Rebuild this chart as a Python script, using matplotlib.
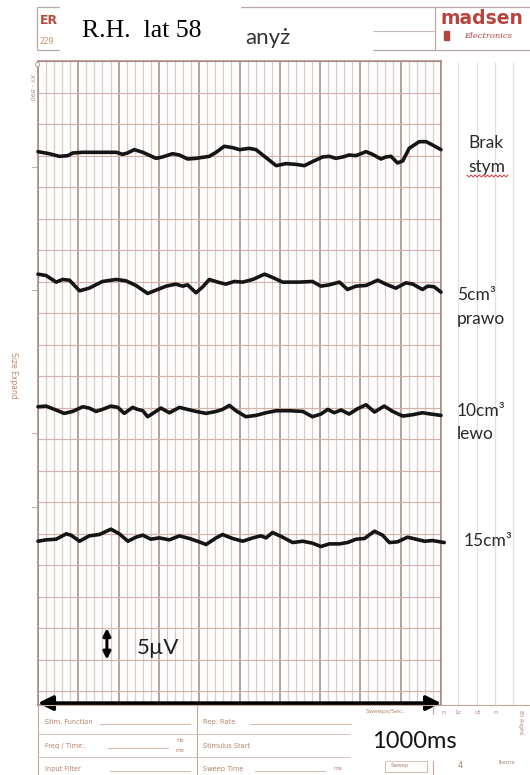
import numpy as np
import matplotlib
matplotlib.use("Agg")
import matplotlib.pyplot as plt
from matplotlib.patches import Rectangle

# ---------------------------------------------------------------------------
# Recorded sweeps: time (ms) and deflection from each channel baseline (µV)
# ---------------------------------------------------------------------------
t_brak = [0, 28, 53, 74, 86, 111, 160, 194, 210, 222, 239, 260, 293, 309, 334,
          351, 371, 392, 425, 442, 462, 483, 500, 524, 541, 566, 591, 615, 640,
          661, 681, 706, 723, 739, 756, 772, 789, 814, 830, 851, 863, 876, 892,
          905, 921, 946, 963, 979, 1000]
v_brak = [0.21, -0.11, -0.53, -0.42, 0.0, 0.11, 0.11, 0.11, -0.21, 0.0, 0.53,
          0.11, -0.85, -0.63, -0.11, -0.32, -0.95, -0.85, -0.53, 0.11, 1.06,
          0.85, 0.53, 0.74, 0.53, -0.74, -2.01, -1.69, -1.80, -2.01, -1.37,
          -0.63, -0.53, -0.85, -0.63, -0.32, -0.42, 0.21, -0.21, -0.95, -0.63,
          -0.53, -1.58, -1.27, 0.74, 1.80, 1.80, 1.27, 0.53]

t_5p = [0, 20, 45, 61, 78, 103, 127, 160, 194, 218, 243, 272, 293, 318, 342,
        359, 371, 392, 409, 425, 446, 466, 487, 508, 533, 562, 582, 607, 648,
        681, 702, 723, 748, 768, 789, 814, 843, 863, 888, 913, 930, 954, 967,
        983, 1000]
v_5p = [1.37, 1.16, 0.11, 0.53, 0.42, -1.27, -0.85, 0.21, 0.53, 0.32, -0.42,
        -1.69, -1.16, -0.53, -0.21, -0.53, -0.32, -1.58, -0.63, 0.53, 0.11,
        -0.21, 0.21, 0.11, 0.53, 1.37, 0.85, 0.11, 0.11, 0.21, -0.53, -0.32,
        0.11, -1.06, -0.53, -0.42, 0.42, -0.21, -0.85, 0.0, -0.21, -1.06,
        -0.53, -0.63, -1.48]

t_10l = [0, 20, 41, 65, 86, 111, 127, 144, 160, 181, 198, 214, 235, 247, 260,
         272, 285, 305, 326, 351, 371, 392, 417, 442, 458, 475, 491, 516, 541,
         566, 591, 624, 657, 681, 702, 719, 735, 752, 772, 793, 814, 835, 859,
         880, 905, 930, 954, 975, 1000]
v_10l = [0.63, 0.74, 0.21, -0.42, -0.11, 0.63, 0.42, -0.11, 0.21, 0.74, 0.53,
         -0.42, 0.53, 0.21, 0.0, -0.95, -0.42, 0.42, -0.32, 0.53, 0.21, -0.11,
         -0.42, -0.11, 0.21, 0.85, 0.0, -0.95, -0.74, -0.32, 0.0, 0.0, -0.11,
         -0.95, -0.53, 0.21, -0.32, 0.11, -0.53, 0.32, 0.95, -0.21, 0.74,
         -0.11, -0.85, -0.63, -0.32, -0.53, -0.74]

t_15 = [0, 20, 45, 70, 82, 103, 127, 152, 181, 202, 223, 243, 260, 280, 301,
        326, 351, 376, 400, 417, 442, 458, 483, 508, 533, 553, 566, 582, 607,
        632, 657, 681, 702, 723, 748, 768, 789, 810, 835, 855, 872, 892, 917,
        938, 959, 979, 1008]
v_15 = [-0.11, 0.11, 0.21, 1.06, 0.85, -0.11, 0.74, 0.95, 1.80, 1.06, -0.11,
        0.53, 0.85, 0.21, 0.42, 0.11, 0.74, 0.32, -0.21, -0.63, 0.42, 0.95,
        0.32, -0.11, 0.42, 0.74, 0.42, 1.27, 0.53, -0.32, -0.11, -0.42, -0.95,
        -0.53, -0.53, -0.32, 0.21, 0.32, 1.48, 0.85, -0.32, -0.21, 0.53, 0.21,
        -0.11, 0.0, -0.32]

baselines_uV = [85.4, 64.8, 44.5, 23.9]
trace_labels = [["Brak", "stym"], ["5cm³", "prawo"], ["10cm³", "lewo"], ["15cm³"]]

sweep_ms = 1000
scale_uV = 5
patient = "R.H.  lat 58"
test_name = "anyż"

# ---------------------------------------------------------------------------
# Page geometry (pixels of a 530 x 775 sheet)
# ---------------------------------------------------------------------------
W, H = 530, 775
GL, GR, GT, GB = 38, 441, 61, 705

SANS = ["Lato", "DejaVu Sans"]
INK = "#1f1f1f"
FORM = "#b9826a"
MAJOR = "#a5857a"
MINOR = "#dccac6"
HLINE = "#d2b2aa"

fig = plt.figure(figsize=(W / 100, H / 100), dpi=100)
fig.patch.set_facecolor("white")

ax = fig.add_axes([GL / W, 1 - GB / H, (GR - GL) / W, (GB - GT) / H])
ax.set_facecolor("white")
ax.set_xlim(0, sweep_ms)
ax.set_ylim(-2.2, 100)

# chart paper ruling: 100 ms major, 20 ms minor, 5 µV horizontal
ax.set_xticks(np.arange(0, sweep_ms + 1, 100))
ax.set_xticks([m for m in range(0, sweep_ms + 1, 20) if m % 100], minor=True)
ax.set_yticks(np.arange(0, 101, scale_uV))
ax.tick_params(which="both", length=0, labelbottom=False, labelleft=False)
ax.grid(which="minor", axis="x", color=MINOR, lw=0.9)
ax.grid(which="major", axis="y", color=HLINE, lw=0.9)
ax.grid(which="major", axis="x", color=MAJOR, lw=1.1)
for s in ax.spines.values():
    s.set_color(MAJOR)
    s.set_linewidth(1.1)

# the four sweeps
sweeps = [(t_brak, v_brak), (t_5p, v_5p), (t_10l, v_10l), (t_15, v_15)]
for (t, v), base in zip(sweeps, baselines_uV):
    ax.plot(t, np.asarray(v) + base, color="#151515", lw=2.6,
            solid_joinstyle="round", solid_capstyle="round", clip_on=False,
            zorder=4)

# time base arrow across the full sweep
ax.annotate("", xy=(sweep_ms, -1.9), xytext=(0, -1.9),
            arrowprops=dict(arrowstyle="<|-|>", color="black", lw=2.6,
                            mutation_scale=22, shrinkA=0, shrinkB=0),
            annotation_clip=False, zorder=6)

# amplitude calibration bar
ax.annotate("", xy=(171, 5 + scale_uV), xytext=(171, 5),
            arrowprops=dict(arrowstyle="<|-|>", color="black", lw=2.2,
                            mutation_scale=11, shrinkA=0, shrinkB=0),
            annotation_clip=False, zorder=6)
ax.text(244, 6.8, f"{scale_uV}µV", family=SANS, fontsize=16, color=INK,
        ha="left", va="center", zorder=6)

# ---------------------------------------------------------------------------
# Printed form around the chart paper
# ---------------------------------------------------------------------------
pg = fig.add_axes([0, 0, 1, 1], zorder=3)
pg.set_xlim(0, W)
pg.set_ylim(H, 0)
pg.axis("off")
pg.patch.set_visible(False)

# right-hand annotation strip
pg.vlines([458, 477, 495, 513], GT + 1, GB, color="#eadcdc", lw=0.9, zorder=1)

# header frame
pg.hlines([7, 50], 37, W, color="#b8a8a6", lw=0.9, zorder=1)
pg.vlines([37, 435], 7, 50, color="#b8a8a6", lw=0.9, zorder=1)
pg.hlines(31, 372, 435, color="#c8baba", lw=0.8, zorder=1)
pg.text(40, 20, "ER", color="#b8483a", fontsize=9, fontweight="bold",
        family="DejaVu Sans", ha="left", va="center", zorder=2)
pg.text(40, 42, "229", color="#d08a60", fontsize=5.5, family="DejaVu Sans",
        ha="left", va="center", zorder=2)

# manufacturer logo
pg.text(482, 19, "madsen", color="#b5443f", fontsize=13.5, fontweight="bold",
        family="DejaVu Sans", ha="center", va="center", zorder=2)
pg.add_patch(Rectangle((444, 31), 5, 9, color="#b5443f", zorder=2))
pg.text(488, 36, "Electronics", color="#b5443f", fontsize=6, style="italic",
        family="DejaVu Serif", ha="center", va="center", zorder=2)

# patient / test slips
pg.add_patch(Rectangle((60, 0), 180, 52, color="white", zorder=3))
pg.add_patch(Rectangle((240, 10), 132, 42, color="white", zorder=3))
pg.text(82, 31, patient, family="Liberation Serif", fontsize=18.5,
        color="black", ha="left", va="center", zorder=4)
pg.text(245, 44, test_name, family=SANS, fontsize=16, color="#333333",
        ha="left", va="baseline", zorder=4)

# left margin notes
pg.text(31, 87, "XY - 890", rotation=-90, fontsize=4.5, color="#9a8c86",
        family="DejaVu Sans", ha="center", va="center")
pg.text(13, 375, "Size Expand", rotation=-90, fontsize=5.5, color="#c48a66",
        family="DejaVu Sans", ha="center", va="center")
for yy in [167, 290, 433, 507]:
    pg.plot([32, 36], [yy, yy], color="#c0b4b0", lw=0.8)
pg.plot([37], [64], marker="o", ms=3, mfc="white", mec="#b0a0a0", mew=0.7)

# channel labels
label_pos = [(468, [143, 167]), (457, [295, 319]), (457, [411, 434]),
             (464, [541])]
for lines, (lx, ys) in zip(trace_labels, label_pos):
    for txt, yy in zip(lines, ys):
        pg.text(lx, yy, txt, family=SANS, fontsize=12.5, color="#2a2a2a",
                ha="left", va="center", zorder=4)
# proofing squiggle under the misspelt word
zx = np.linspace(467, 508, 21)
zy = 176 + np.where(np.arange(zx.size) % 2 == 0, -1.0, 1.0)
pg.plot(zx, zy, color="#d23a3a", lw=0.7, zorder=4)

# bottom settings form
pg.hlines(GB, GL, W, color="#c7a79d", lw=0.8)
pg.vlines([GL, 197, 433], GB, H, color="#c7a79d", lw=0.8)
pg.hlines([734, 757], GL, 350, color="#d8c2ba", lw=0.7)
form_rows = [
    (45, 722, "Stim. Function", 100, 190),
    (203, 722, "Rep. Rate", 250, 352),
    (45, 746, "Freq / Time:", 108, 168),
    (203, 746, "Stimulus Start", None, None),
    (45, 769, "Input Filter", 110, 190),
    (203, 769, "Sweep Time", 255, 325),
]
for x0, y0, txt, u0, u1 in form_rows:
    pg.text(x0, y0, txt, fontsize=4.8, color=FORM, family="DejaVu Sans",
            ha="left", va="center")
    if u0 is not None:
        pg.plot([u0, u1], [y0 + 2, y0 + 2], color="#c9aa9e", lw=0.6)
pg.text(180, 740, "Hz", fontsize=4.2, color=FORM, ha="center", va="center")
pg.text(180, 750, "ms", fontsize=4.2, color=FORM, ha="center", va="center")
pg.text(333, 769, "ms", fontsize=4.2, color=FORM, ha="left", va="center")
pg.text(385, 712, "Sweeps/Sec.", fontsize=4.5, color=FORM, ha="center",
        va="center")
for cx, ct in zip([443, 458, 478, 495], ["n", "1c", "ut", "n"]):
    pg.text(cx, 712, ct, fontsize=4.5, color=FORM, ha="center", va="center")
pg.text(521, 722, "Bl Right", fontsize=4.5, color=FORM, rotation=-90,
        ha="center", va="center")
pg.text(460, 765, "4", fontsize=6, color=FORM, ha="center", va="center")
pg.text(507, 763, "Items", fontsize=4.2, color=FORM, ha="center", va="center")
pg.add_patch(Rectangle((385, 761), 42, 11, fill=False, ec="#c9aa9e", lw=0.6))
pg.text(400, 766, "Sweep", fontsize=4, color=FORM, ha="center", va="center")

# sweep-duration slip
pg.add_patch(Rectangle((352, 715), 146, 45, color="white", zorder=3))
pg.text(414, 742, f"{sweep_ms}ms", family=SANS, fontsize=17, color="#141414",
        ha="center", va="center", zorder=4)

fig.savefig("out.png", dpi=100, facecolor="white")
